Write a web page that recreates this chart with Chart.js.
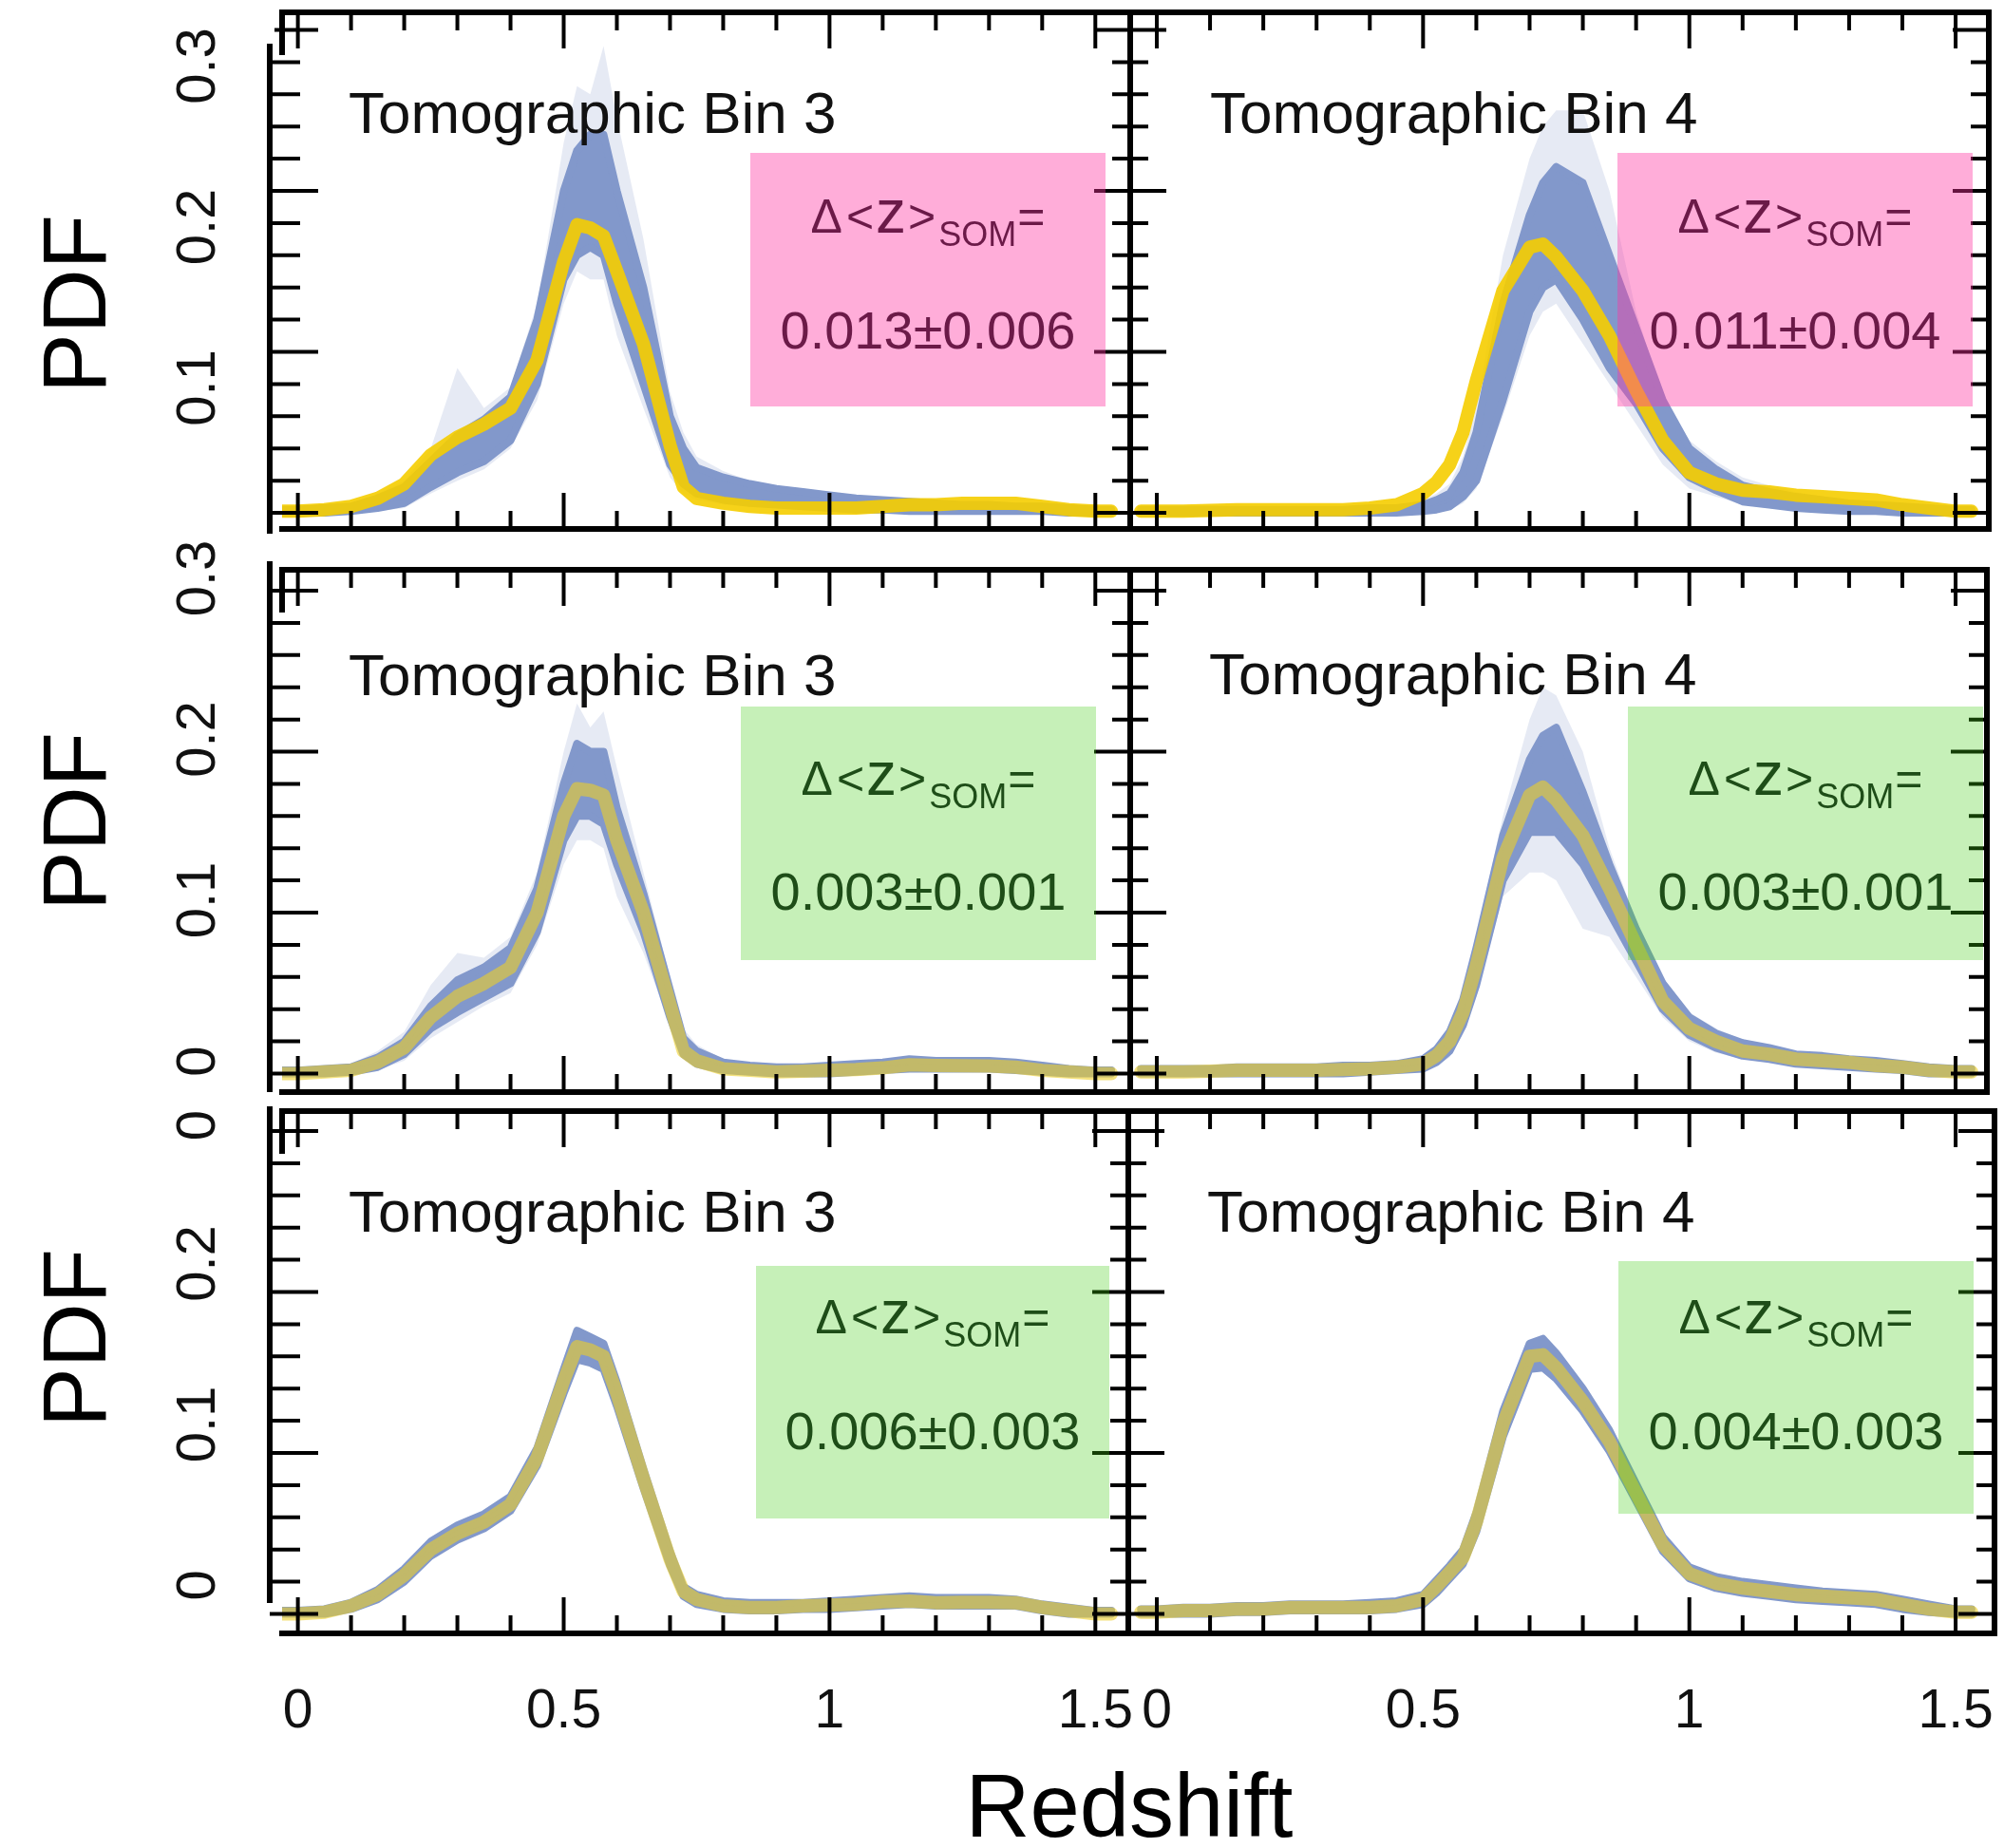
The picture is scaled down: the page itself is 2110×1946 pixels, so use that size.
<!DOCTYPE html>
<html><head><meta charset="utf-8">
<script src="https://cdn.jsdelivr.net/npm/chart.js@4.4.1/dist/chart.umd.min.js"></script>
<style>
html,body{margin:0;padding:0;background:#fff;}
#wrap{position:relative;width:2110px;height:1946px;background:#fff;}
#wrap canvas{position:absolute;left:0;top:0;width:2110px;height:1946px;}
</style></head><body><div id="wrap">
<canvas id="c0" width="2110" height="1946"></canvas>
<canvas id="c1" width="2110" height="1946"></canvas>
<canvas id="c2" width="2110" height="1946"></canvas>
<canvas id="c3" width="2110" height="1946"></canvas>
<canvas id="c4" width="2110" height="1946"></canvas>
<canvas id="c5" width="2110" height="1946"></canvas>
</div>
<script>
// ---------------- DATA ----------------
const redshiftGrid = [-0.03,0,0.05,0.1,0.15,0.2,0.25,0.3,0.35,0.4,0.45,0.5,0.525,0.55,0.575,0.6,0.65,0.7,0.725,0.75,0.8,0.85,0.9,0.95,1.0,1.05,1.1,1.15,1.2,1.25,1.3,1.35,1.4,1.45,1.5,1.53];

// Row 1, bin 3 (pink)
const meanA   = [0.001,0.001,0.002,0.004,0.009,0.018,0.036,0.047,0.055,0.065,0.095,0.156,0.179,0.177,0.172,0.15,0.105,0.042,0.016,0.009,0.006,0.004,0.003,0.003,0.003,0.003,0.004,0.005,0.005,0.006,0.006,0.006,0.004,0.002,0.001,0.001];
const bandLoA = [0,0,0,0.001,0.003,0.006,0.016,0.025,0.032,0.045,0.08,0.145,0.16,0.165,0.16,0.13,0.08,0.03,0.018,0.012,0.008,0.006,0.005,0.004,0.003,0.002,0.002,0.001,0.001,0.001,0.001,0.001,0.001,0,0,0];
const bandHiA = [0.002,0.002,0.003,0.004,0.009,0.016,0.032,0.048,0.058,0.072,0.12,0.2,0.225,0.235,0.235,0.2,0.14,0.06,0.04,0.028,0.022,0.018,0.015,0.013,0.011,0.009,0.008,0.007,0.006,0.005,0.005,0.004,0.004,0.003,0.002,0.002];
const faintLoA = [0,0,0,0,0.001,0.003,0.012,0.02,0.027,0.04,0.07,0.13,0.15,0.145,0.145,0.11,0.065,0.022,0.012,0.008,0.005,0.004,0.003,0.002,0.002,0.001,0.001,0.001,0,0,0,0,0,0,0,0];
const faintHiA = [0.002,0.002,0.004,0.006,0.012,0.02,0.04,0.09,0.065,0.078,0.13,0.23,0.265,0.26,0.29,0.245,0.17,0.075,0.05,0.035,0.026,0.02,0.017,0.015,0.013,0.011,0.01,0.009,0.008,0.007,0.006,0.006,0.005,0.004,0.003,0.002];

// Row 1, bin 4 (pink)
const meanB   = [0.001,0.001,0.001,0.0015,0.002,0.002,0.002,0.002,0.002,0.003,0.005,0.012,0.019,0.03,0.05,0.082,0.138,0.165,0.167,0.159,0.138,0.11,0.076,0.045,0.025,0.018,0.014,0.013,0.011,0.01,0.009,0.008,0.005,0.003,0.001,0.001];
const bandLoB = [0,0,0,0,0,0,0,0,0,0,0,0.001,0.002,0.004,0.01,0.02,0.07,0.125,0.14,0.145,0.12,0.09,0.068,0.04,0.022,0.014,0.007,0.005,0.003,0.002,0.001,0.001,0,0,0,0];
const bandHiB = [0.002,0.002,0.002,0.002,0.002,0.002,0.002,0.002,0.002,0.003,0.003,0.005,0.008,0.012,0.025,0.05,0.13,0.185,0.205,0.215,0.205,0.16,0.115,0.07,0.04,0.027,0.017,0.013,0.01,0.008,0.006,0.005,0.004,0.003,0.002,0.002];
const faintLoB = [0,0,0,0,0,0,0,0,0,0,0,0,0,0.002,0.006,0.015,0.06,0.11,0.125,0.13,0.105,0.08,0.055,0.03,0.015,0.01,0.005,0.003,0.002,0.001,0,0,0,0,0,0];
const faintHiB = [0.002,0.002,0.002,0.003,0.003,0.003,0.003,0.003,0.003,0.004,0.005,0.008,0.012,0.018,0.035,0.065,0.16,0.22,0.24,0.25,0.25,0.2,0.125,0.072,0.045,0.032,0.022,0.017,0.013,0.01,0.008,0.006,0.005,0.004,0.003,0.002];

// Row 2, bin 3 (green)
const meanC   = [0,0,0.001,0.002,0.007,0.016,0.035,0.048,0.056,0.066,0.1,0.16,0.177,0.176,0.173,0.145,0.1,0.043,0.014,0.008,0.003,0.002,0.001,0.0015,0.002,0.0025,0.0035,0.0055,0.005,0.0048,0.0047,0.004,0.002,0.001,0,0];
const bandLoC = [0,0,0,0.001,0.004,0.012,0.028,0.038,0.047,0.056,0.088,0.145,0.16,0.16,0.155,0.13,0.088,0.035,0.012,0.006,0.002,0.001,0,0,0,0.001,0.002,0.003,0.003,0.003,0.003,0.002,0.001,0,0,0];
const bandHiC = [0.002,0.002,0.003,0.004,0.01,0.02,0.042,0.058,0.066,0.078,0.115,0.18,0.205,0.2,0.2,0.165,0.112,0.052,0.022,0.014,0.007,0.005,0.004,0.004,0.005,0.006,0.007,0.009,0.008,0.008,0.008,0.007,0.005,0.003,0.002,0.002];
const faintLoC = [0,0,0,0,0.002,0.008,0.022,0.032,0.042,0.05,0.08,0.13,0.145,0.145,0.14,0.11,0.075,0.03,0.01,0.004,0.001,0,0,0,0,0,0.001,0.002,0.002,0.002,0.002,0.001,0,0,0,0];
const faintHiC = [0.002,0.002,0.004,0.006,0.014,0.026,0.055,0.075,0.072,0.085,0.125,0.2,0.23,0.215,0.225,0.19,0.125,0.06,0.028,0.018,0.009,0.006,0.005,0.005,0.006,0.007,0.008,0.01,0.009,0.009,0.009,0.008,0.006,0.004,0.002,0.002];

// Row 2, bin 4 (green)
const meanD   = [0.001,0.001,0.001,0.0015,0.002,0.002,0.002,0.002,0.0025,0.003,0.004,0.006,0.011,0.02,0.038,0.067,0.134,0.173,0.178,0.17,0.148,0.115,0.08,0.045,0.028,0.02,0.014,0.012,0.009,0.008,0.007,0.005,0.004,0.002,0.001,0.001];
const bandLoD = [0,0,0,0,0,0,0,0,0,0.001,0.002,0.003,0.007,0.014,0.03,0.055,0.12,0.15,0.15,0.15,0.13,0.1,0.07,0.04,0.024,0.016,0.011,0.009,0.006,0.005,0.004,0.003,0.002,0,0,0];
const bandHiD = [0.003,0.003,0.003,0.003,0.004,0.004,0.004,0.004,0.005,0.005,0.006,0.009,0.015,0.026,0.046,0.078,0.148,0.195,0.21,0.215,0.175,0.13,0.09,0.056,0.035,0.025,0.019,0.016,0.012,0.011,0.009,0.008,0.006,0.004,0.003,0.003];
const faintLoD = [0,0,0,0,0,0,0,0,0,0,0.001,0.002,0.005,0.01,0.025,0.048,0.11,0.125,0.125,0.12,0.09,0.085,0.06,0.035,0.02,0.013,0.009,0.007,0.005,0.004,0.003,0.002,0.001,0,0,0];
const faintHiD = [0.003,0.003,0.003,0.004,0.005,0.005,0.005,0.005,0.006,0.006,0.007,0.011,0.018,0.03,0.052,0.085,0.16,0.22,0.24,0.235,0.2,0.14,0.095,0.06,0.038,0.028,0.021,0.018,0.014,0.012,0.01,0.009,0.007,0.005,0.003,0.003];

// Row 3, bin 3 (green)
const meanE   = [0,0,0.001,0.005,0.012,0.024,0.04,0.05,0.057,0.068,0.097,0.145,0.166,0.164,0.16,0.137,0.084,0.034,0.014,0.009,0.005,0.004,0.004,0.005,0.0055,0.006,0.0075,0.008,0.007,0.0072,0.0072,0.007,0.004,0.002,0,0];
const bandLoE = [0,0,0,0.003,0.009,0.02,0.036,0.046,0.053,0.064,0.092,0.137,0.158,0.156,0.152,0.129,0.078,0.03,0.011,0.006,0.003,0.002,0.002,0.003,0.003,0.004,0.005,0.006,0.005,0.005,0.005,0.005,0.002,0,0,0];
const bandHiE = [0.002,0.002,0.003,0.007,0.015,0.028,0.045,0.055,0.062,0.073,0.103,0.152,0.176,0.172,0.168,0.144,0.09,0.039,0.017,0.012,0.008,0.007,0.007,0.007,0.008,0.009,0.01,0.011,0.01,0.01,0.01,0.009,0.006,0.004,0.002,0.002];

// Row 3, bin 4 (green)
const meanF   = [0.001,0.001,0.002,0.002,0.003,0.003,0.004,0.004,0.004,0.004,0.005,0.009,0.017,0.026,0.035,0.057,0.118,0.16,0.161,0.153,0.132,0.107,0.075,0.043,0.025,0.019,0.016,0.014,0.012,0.011,0.01,0.009,0.006,0.003,0.001,0.001];
const bandLoF = [0,0,0,0,0.001,0.001,0.002,0.002,0.002,0.002,0.003,0.006,0.013,0.022,0.031,0.051,0.11,0.152,0.153,0.146,0.126,0.101,0.07,0.039,0.022,0.016,0.013,0.011,0.009,0.008,0.007,0.006,0.003,0.001,0,0];
const bandHiF = [0.003,0.003,0.004,0.004,0.005,0.005,0.006,0.006,0.006,0.007,0.008,0.012,0.021,0.03,0.04,0.063,0.126,0.168,0.171,0.162,0.14,0.114,0.081,0.048,0.029,0.023,0.02,0.018,0.016,0.014,0.013,0.012,0.009,0.006,0.003,0.003];

const panelTitles = ['Tomographic Bin 3','Tomographic Bin 4','Tomographic Bin 3','Tomographic Bin 4','Tomographic Bin 3','Tomographic Bin 4'];
const deltaValues = ['0.013±0.006','0.011±0.004','0.003±0.001','0.003±0.001','0.006±0.003','0.004±0.003'];

const xTickValues = [0,0.1,0.2,0.3,0.4,0.5,0.6,0.7,0.8,0.9,1.0,1.1,1.2,1.3,1.4,1.5];
const xMajorValues = [0,0.5,1.0,1.5];
const xTickLabels = ['0','0.5','1','1.5'];
const yTickValues = [0,0.02,0.04,0.06,0.08,0.1,0.12,0.14,0.16,0.18,0.2,0.22,0.24,0.26,0.28,0.3];
const yMajorValues = [0,0.1,0.2,0.3];
const yTickLabels = ['0','0.1','0.2','0.3'];

const yAxisTitle = 'PDF';
const xAxisTitle = 'Redshift';

// ---------------- STYLE / LAYOUT ----------------
const FONT = '"Liberation Sans", Arial, Helvetica, sans-serif';
const BAND = 'rgb(130,152,203)';
const FAINT = 'rgba(128,150,202,0.2)';
const PINK = { fill:'rgba(255,50,160,0.40)', text:'#6b1a48' };
const GREEN = { fill:'rgba(65,205,20,0.30)', text:'#1e4d18' };
const YELLOW1 = 'rgba(245,205,0,0.9)';
const YELLOW2 = 'rgba(236,206,40,0.6)';

const panels = [
 {mean:meanA, lo:bandLoA, hi:bandHiA, flo:faintLoA, fhi:faintHiA, yellow:YELLOW1, theme:PINK,
  frame:{l:297,r:1190,t:13,b:557}, xr:[-0.0297,1.5656], yr:[-0.0100,0.3109],
  titlePos:[367,140], box:[790,161,1164,428], l1:245, l2:367, left:{axisX:284,y0:46,y1:562,shift:38,clip:[0,562],pdfY:320}},
 {mean:meanB, lo:bandLoB, hi:bandHiB, flo:faintLoB, fhi:faintHiB, yellow:YELLOW1, theme:PINK,
  frame:{l:1190,r:2094,t:13,b:557}, xr:[-0.0499,1.5623], yr:[-0.0100,0.3109],
  titlePos:[1274,140], box:[1703,161,2077,428], l1:245, l2:367},
 {mean:meanC, lo:bandLoC, hi:bandHiC, flo:faintLoC, fhi:faintHiC, yellow:YELLOW2, theme:GREEN,
  frame:{l:297,r:1190,t:600,b:1150}, xr:[-0.0297,1.5656], yr:[-0.0115,0.3130],
  titlePos:[367,732], box:[780,744,1154,1011], l1:837, l2:958, left:{axisX:284,y0:591,y1:1150,shift:-13,clip:[565,1162],pdfY:865}},
 {mean:meanD, lo:bandLoD, hi:bandHiD, flo:faintLoD, fhi:faintHiD, yellow:YELLOW2, theme:GREEN,
  frame:{l:1190,r:2092,t:600,b:1150}, xr:[-0.0499,1.5588], yr:[-0.0115,0.3130],
  titlePos:[1273,731], box:[1714,744,2088,1011], l1:837, l2:958},
 {mean:meanE, lo:bandLoE, hi:bandHiE, flo:null, fhi:null, yellow:YELLOW2, theme:GREEN,
  frame:{l:297,r:1188,t:1170,b:1720}, xr:[-0.0297,1.562], yr:[-0.0121,0.3124],
  titlePos:[367,1297], box:[796,1333,1168,1599], l1:1404, l2:1526, left:{axisX:284,y0:1165,y1:1688,shift:-30,clip:[1166,1760],pdfY:1409}, bottom:true, xTitle:true},
 {mean:meanF, lo:bandLoF, hi:bandHiF, flo:null, fhi:null, yellow:YELLOW2, theme:GREEN,
  frame:{l:1188,r:2100,t:1170,b:1720}, xr:[-0.0535,1.573], yr:[-0.0121,0.3124],
  titlePos:[1271,1297], box:[1704,1328,2078,1594], l1:1404, l2:1526, bottom:true}
];

function pts(arr){ return arr.map((v,i)=>({x:redshiftGrid[i], y:v})); }
const near = (list,v)=>list.some(m=>Math.abs(m-v)<1e-9);

function drawDelta(ctx, cx, baseY, color){
  const parts = [['Δ',50,0,4],['<',50,0,2],['z',64,0,2],['>',50,0,3],['SOM',36,14,1],['=',50,0,0]];
  let w = 0;
  const ws = parts.map(p=>{ ctx.font = p[1]+'px '+FONT; const m = ctx.measureText(p[0]).width; w += m + p[3]; return m; });
  let x = cx - w/2;
  ctx.fillStyle = color; ctx.textAlign='left'; ctx.textBaseline='alphabetic';
  parts.forEach((p,i)=>{ ctx.font = p[1]+'px '+FONT; ctx.fillText(p[0], x, baseY + p[2]); x += ws[i] + p[3]; });
}

function panelPlugin(P, idx){
  return {
    id:'panelDeco'+idx,
    afterDatasetsDraw(chart){
      const ctx = chart.ctx, a = chart.chartArea, xs = chart.scales.x, ys = chart.scales.y;
      ctx.save();
      ctx.strokeStyle = '#000'; ctx.lineWidth = 4; ctx.lineCap = 'butt';
      ctx.beginPath();
      xTickValues.forEach(v=>{
        const px = xs.getPixelForValue(v), L = near(xMajorValues,v) ? 38 : 19;
        ctx.moveTo(px, a.top); ctx.lineTo(px, a.top + L);
        ctx.moveTo(px, a.bottom); ctx.lineTo(px, a.bottom - L);
      });
      yTickValues.forEach(v=>{
        const py = ys.getPixelForValue(v), L = near(yMajorValues,v) ? 38 : 19;
        let lx = a.left;
        if (P.left) lx = (py >= P.left.y0) ? P.left.axisX : a.left - 8;
        ctx.moveTo(lx, py); ctx.lineTo(a.left + L, py);
        ctx.moveTo(a.right, py); ctx.lineTo(a.right - L, py);
      });
      ctx.stroke();
      ctx.lineWidth = 6;
      ctx.beginPath();
      ctx.moveTo(a.left - 3, a.top); ctx.lineTo(a.right + 3, a.top);
      ctx.moveTo(a.left - 3, a.bottom); ctx.lineTo(a.right + 3, a.bottom);
      ctx.moveTo(a.right, a.top); ctx.lineTo(a.right, a.bottom);
      if (P.left) {
        ctx.moveTo(a.left, a.top); ctx.lineTo(a.left, a.top + 45);
        ctx.moveTo(P.left.axisX, P.left.y0); ctx.lineTo(P.left.axisX, P.left.y1);
      } else {
        ctx.moveTo(a.left, a.top); ctx.lineTo(a.left, a.bottom);
      }
      ctx.stroke();
      const b = P.box;
      ctx.fillStyle = P.theme.fill;
      ctx.fillRect(b[0], b[1], b[2]-b[0], b[3]-b[1]);
      const bcx = (b[0]+b[2])/2;
      drawDelta(ctx, bcx, P.l1, P.theme.text);
      ctx.font = '56px '+FONT; ctx.textAlign='center'; ctx.fillStyle = P.theme.text;
      ctx.fillText(deltaValues[idx], bcx, P.l2);
      ctx.font = '62px '+FONT; ctx.textAlign='left'; ctx.fillStyle = '#111';
      ctx.fillText(panelTitles[idx], P.titlePos[0], P.titlePos[1]);
      if (P.left) {
        ctx.save();
        ctx.beginPath(); ctx.rect(0, P.left.clip[0], 292, P.left.clip[1]-P.left.clip[0]); ctx.clip();
        ctx.font = '58px '+FONT; ctx.fillStyle = '#111'; ctx.textAlign='center'; ctx.textBaseline='alphabetic';
        yMajorValues.forEach((v,i)=>{
          const py = ys.getPixelForValue(v) + P.left.shift;
          ctx.save(); ctx.translate(205, py); ctx.rotate(-Math.PI/2);
          ctx.fillText(yTickLabels[i], 0, 58*0.36); ctx.restore();
        });
        ctx.restore();
        ctx.save(); ctx.translate(77, P.left.pdfY); ctx.rotate(-Math.PI/2);
        ctx.font = '94px '+FONT; ctx.fillStyle = '#000'; ctx.textAlign='center';
        ctx.fillText(yAxisTitle, 0, 94*0.36); ctx.restore();
      }
      if (P.bottom) {
        ctx.font = '57px '+FONT; ctx.fillStyle = '#111'; ctx.textAlign='center'; ctx.textBaseline='alphabetic';
        xMajorValues.forEach((v,i)=>{ ctx.fillText(xTickLabels[i], xs.getPixelForValue(v), 1819); });
      }
      if (P.xTitle) {
        ctx.font = '94px '+FONT; ctx.fillStyle = '#000'; ctx.textAlign='center';
        ctx.fillText(xAxisTitle, 1189, 1934);
      }
      ctx.restore();
    }
  };
}

panels.forEach((P, idx)=>{
  const ds = [
    {data:pts(P.mean), borderColor:P.yellow, borderWidth:14, fill:false, order:0},
    {data:pts(P.lo), borderColor:BAND, borderWidth:8, fill:false, order:1},
    {data:pts(P.hi), borderColor:BAND, backgroundColor:BAND, borderWidth:8, fill:'-1', order:1}
  ];
  if (P.flo) {
    ds.push({data:pts(P.flo), borderColor:'rgba(0,0,0,0)', borderWidth:0, fill:false, order:2});
    ds.push({data:pts(P.fhi), borderColor:'rgba(0,0,0,0)', backgroundColor:FAINT, borderWidth:0, fill:'-1', order:2});
  }
  new Chart(document.getElementById('c'+idx), {
    type:'line',
    data:{datasets:ds},
    options:{
      responsive:false, animation:false, devicePixelRatio:1,
      layout:{padding:{left:P.frame.l, top:P.frame.t, right:2110-P.frame.r, bottom:1946-P.frame.b}},
      scales:{
        x:{type:'linear', min:P.xr[0], max:P.xr[1], display:false},
        y:{type:'linear', min:P.yr[0], max:P.yr[1], display:false}
      },
      elements:{point:{radius:0}, line:{tension:0, borderJoinStyle:'round', borderCapStyle:'round'}},
      plugins:{legend:{display:false}, tooltip:{enabled:false}, title:{display:false}}
    },
    plugins:[panelPlugin(P, idx)]
  });
});
</script>
</body></html>
